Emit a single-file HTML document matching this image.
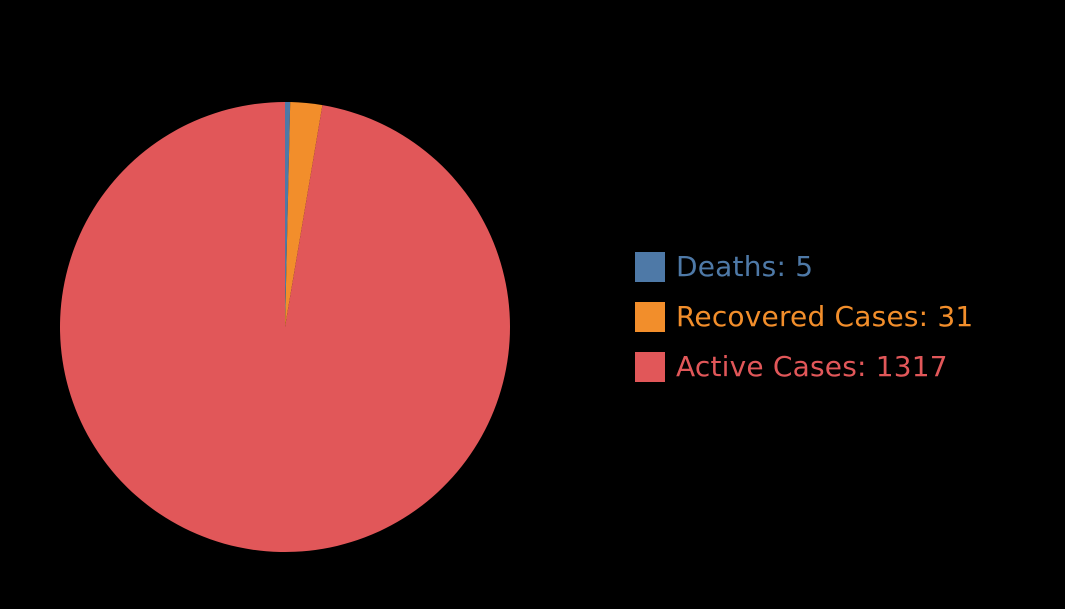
<!DOCTYPE html>
<html><head><meta charset="utf-8"><style>
html,body{margin:0;padding:0;background:#000;}
svg{display:block}
text{font-family:"DejaVu Sans","Liberation Sans",sans-serif;font-size:28px;letter-spacing:0.2px;}
</style></head><body>
<svg width="1065" height="609">
<g id="slices"></g>
<g id="legend"></g>
</svg>
<script>
const labels = ["Deaths", "Recovered Cases", "Active Cases"];
const values = [5, 31, 1317];
const colors = ["#4e79a7", "#f28e2b", "#e15759"];
const ns = "http://www.w3.org/2000/svg";
const cx = 285, cy = 327, r = 225;
const total = values.reduce((a, b) => a + b, 0);
let a0 = 0;
const sg = document.getElementById('slices');
values.forEach((v, i) => {
  const a1 = a0 + v / total * Math.PI * 2;
  const x0 = cx + r * Math.sin(a0), y0 = cy - r * Math.cos(a0);
  const x1 = cx + r * Math.sin(a1), y1 = cy - r * Math.cos(a1);
  const large = (a1 - a0) > Math.PI ? 1 : 0;
  const p = document.createElementNS(ns, 'path');
  p.setAttribute('d', `M${cx},${cy} L${x0},${y0} A${r},${r} 0 ${large} 1 ${x1},${y1} Z`);
  p.setAttribute('fill', colors[i]);
  
  
  sg.appendChild(p);
  a0 = a1;
});
const lg = document.getElementById('legend');
labels.forEach((l, i) => {
  const y = 252 + i * 50;
  const rc = document.createElementNS(ns, 'rect');
  rc.setAttribute('x', 635); rc.setAttribute('y', y);
  rc.setAttribute('width', 30); rc.setAttribute('height', 30);
  rc.setAttribute('fill', colors[i]);
  
  
  lg.appendChild(rc);
  const t = document.createElementNS(ns, 'text');
  t.setAttribute('x', 676); t.setAttribute('y', y + 24);
  t.setAttribute('fill', colors[i]);
  t.textContent = l + ': ' + values[i];
  
  
  lg.appendChild(t);
});
</script>
</body></html>
